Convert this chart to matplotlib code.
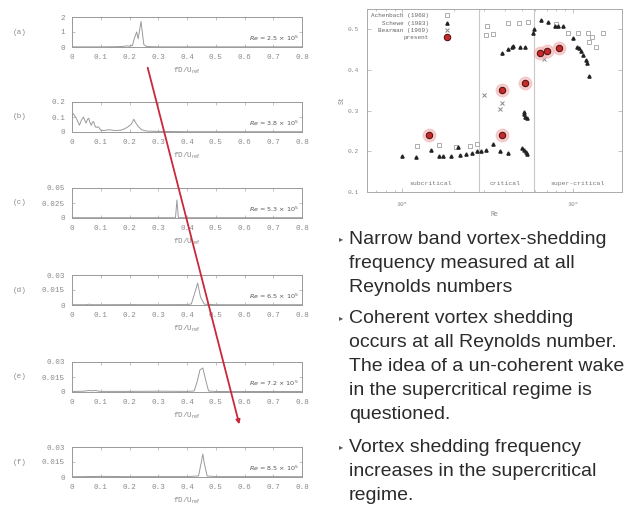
import matplotlib.pyplot as plt
from matplotlib.patches import FancyArrowPatch

# ------------------------------------------------------------
# data
# ------------------------------------------------------------

# left column: spectra, amplitude vs fD/U_ref
freq_a = [0.0, 0.05, 0.10, 0.15, 0.18, 0.19, 0.20, 0.205, 0.21, 0.215, 0.22, 0.225,
          0.23, 0.235, 0.24, 0.245, 0.25, 0.26, 0.30, 0.40, 0.50, 0.60, 0.70, 0.80]
amp_a = [0.01, 0.01, 0.01, 0.02, 0.04, 0.08, 0.05, 0.12, 0.08, 0.45, 0.75, 1.0,
         0.55, 1.1, 1.7, 0.9, 0.15, 0.03, 0.01, 0.01, 0.01, 0.01, 0.01, 0.01]

freq_b = [0.0, 0.005, 0.014, 0.02, 0.026, 0.033, 0.04, 0.045, 0.049, 0.054, 0.058,
          0.063, 0.067, 0.071, 0.075, 0.08, 0.084, 0.09, 0.094, 0.10, 0.11, 0.13,
          0.15, 0.17, 0.184, 0.195, 0.205, 0.21, 0.215, 0.222, 0.23, 0.242, 0.26,
          0.30, 0.40, 0.50, 0.60, 0.70, 0.80]
amp_b = [0.13, 0.12, 0.095, 0.07, 0.045, 0.08, 0.10, 0.075, 0.06, 0.085, 0.092,
         0.06, 0.045, 0.065, 0.07, 0.04, 0.03, 0.035, 0.03, 0.012, 0.01, 0.015,
         0.01, 0.012, 0.022, 0.035, 0.05, 0.065, 0.085, 0.06, 0.038, 0.015, 0.006,
         0.004, 0.002, 0.002, 0.002, 0.002, 0.002]

freq_c = [0.0, 0.1, 0.2, 0.3, 0.36, 0.365, 0.37, 0.4, 0.5, 0.6, 0.7, 0.8]
amp_c = [0.0005, 0.0005, 0.0005, 0.0005, 0.0005, 0.03, 0.0005, 0.0005, 0.0005,
         0.0005, 0.0005, 0.0005]

freq_d = [0.0, 0.05, 0.06, 0.07, 0.1, 0.2, 0.3, 0.4, 0.415, 0.425, 0.437, 0.447,
          0.46, 0.5, 0.6, 0.7, 0.8]
amp_d = [0.0003, 0.0003, 0.0008, 0.0003, 0.0003, 0.0004, 0.0003, 0.0004, 0.001,
         0.01, 0.022, 0.008, 0.0008, 0.0003, 0.0003, 0.0003, 0.0003]

freq_e = [0.0, 0.04, 0.06, 0.07, 0.08, 0.1, 0.2, 0.3, 0.4, 0.425, 0.435, 0.445,
          0.455, 0.465, 0.475, 0.5, 0.6, 0.7, 0.8]
amp_e = [0.0005, 0.0008, 0.0015, 0.0012, 0.0015, 0.0006, 0.0006, 0.0008, 0.0006,
         0.001, 0.01, 0.022, 0.024, 0.012, 0.001, 0.0005, 0.0005, 0.0005, 0.0005]

freq_f = [0.0, 0.1, 0.2, 0.3, 0.4, 0.44, 0.45, 0.455, 0.46, 0.47, 0.5, 0.6, 0.7, 0.8]
amp_f = [0.0003, 0.0006, 0.0004, 0.0004, 0.0004, 0.001, 0.015, 0.023, 0.014,
         0.001, 0.0004, 0.0004, 0.0004, 0.0003]

panel_tags = ['(a)', '(b)', '(c)', '(d)', '(e)', '(f)']
panel_re = ['2.5', '3.8', '5.3', '6.5', '7.2', '8.5']
panel_yticks = [[0, 1, 2], [0, 0.1, 0.2], [0, 0.025, 0.05],
                [0, 0.015, 0.03], [0, 0.015, 0.03], [0, 0.015, 0.03]]
panel_yticklabels = [['0', '1', '2'], ['0', '0.1', '0.2'], ['0', '0.025', '0.05'],
                     ['0', '0.015', '0.03'], ['0', '0.015', '0.03'], ['0', '0.015', '0.03']]
xticks = [0, 0.1, 0.2, 0.3, 0.4, 0.5, 0.6, 0.7, 0.8]

# right column: Strouhal number vs Reynolds number
ach_re = [1.22e5, 1.64e5, 2.05e5, 2.48e5, 2.74e5, 3.08e5, 3.13e5, 3.42e5, 4.18e5,
          4.82e5, 5.47e5, 8.0e5, 9.35e5, 1.07e6, 1.22e6, 1.30e6, 1.25e6, 1.37e6, 1.50e6]
ach_st = [0.213, 0.215, 0.211, 0.213, 0.219, 0.486, 0.507, 0.489, 0.515,
          0.515, 0.517, 0.513, 0.49, 0.49, 0.49, 0.482, 0.470, 0.457, 0.490]

sch_re = [1.0e5, 1.20e5, 1.48e5, 1.65e5, 1.73e5, 1.94e5, 2.12e5, 2.19e5, 2.36e5,
          2.56e5, 2.74e5, 2.90e5, 3.09e5, 3.42e5, 3.74e5, 4.18e5, 5.0e5, 5.16e5,
          5.28e5, 5.40e5,
          5.16e5, 5.20e5, 5.26e5, 5.40e5,
          3.85e5, 4.18e5, 4.37e5, 4.47e5, 4.88e5, 5.22e5,
          5.85e5, 5.93e5, 6.47e5, 7.15e5, 7.8e5, 8.2e5, 8.7e5, 1.0e6, 1.06e6,
          1.08e6, 1.12e6, 1.15e6, 1.19e6, 1.21e6, 1.24e6]
sch_st = [0.189, 0.186, 0.203, 0.188, 0.188, 0.189, 0.211, 0.192, 0.193,
          0.196, 0.201, 0.201, 0.203, 0.217, 0.200, 0.196, 0.207, 0.203,
          0.199, 0.194,
          0.297, 0.293, 0.285, 0.283,
          0.443, 0.451, 0.456, 0.459, 0.456, 0.456,
          0.490, 0.500, 0.524, 0.518, 0.507, 0.507, 0.507, 0.478, 0.457,
          0.453, 0.447, 0.437, 0.424, 0.418, 0.385]

bea_re = [2.99e5, 3.74e5, 3.83e5, 6.8e5]
bea_st = [0.338, 0.305, 0.320, 0.427]

pres_re = [1.43e5, 3.83e5, 3.83e5, 5.22e5, 6.4e5, 7.08e5, 8.28e5]
pres_st = [0.240, 0.350, 0.240, 0.367, 0.443, 0.447, 0.455]

regime_bounds = [2.8e5, 5.93e5]
regime_names = ['subcritical', 'critical', 'super-critical']
regime_pos = [1.46e5, 4.0e5, 1.07e6]

bullets = [
    ['Narrow band vortex-shedding', 'frequency measured at all', 'Reynolds numbers'],
    ['Coherent vortex shedding', 'occurs at all Reynolds number.',
     'The idea of a un-coherent wake', 'in the supercritical regime is', 'questioned.'],
    ['Vortex shedding frequency', 'increases in the supercritical', 'regime.'],
]

# ------------------------------------------------------------
# figure
# ------------------------------------------------------------
W, H = 629, 509
fig = plt.figure(figsize=(W / 100, H / 100), dpi=100)
fig.patch.set_facecolor('white')

grey = '#8a8a8a'
mono = 'Liberation Mono'

spectra = [(freq_a, amp_a), (freq_b, amp_b), (freq_c, amp_c),
           (freq_d, amp_d), (freq_e, amp_e), (freq_f, amp_f)]
tops = [17, 102, 188, 275, 362, 447]

for i, (fq, amp) in enumerate(spectra):
    ax = fig.add_axes([72 / W, 1 - (tops[i] + 30) / H, 230 / W, 30 / H])
    ax.plot(fq, amp, color='#9a9a9a', lw=0.7)
    ax.set_xlim(0, 0.8)
    ax.set_ylim(0, panel_yticks[i][-1])
    ax.set_xticks(xticks)
    ax.set_xticklabels([('%g' % t) for t in xticks], fontsize=5.5, family=mono, color=grey)
    ax.set_yticks(panel_yticks[i])
    ax.set_yticklabels(panel_yticklabels[i], fontsize=5.5, family=mono, color=grey)
    ax.tick_params(direction='in', length=2, width=0.5, colors='#aaaaaa',
                   top=True, right=True, pad=5)
    for t in ax.get_xticklabels() + ax.get_yticklabels():
        t.set_color(grey)
    for s in ax.spines.values():
        s.set_color('#999999')
        s.set_linewidth(0.7)
    ax.set_xlabel(r'fD/U$_{\rm ref}$', fontsize=5.5, family=mono, color=grey, labelpad=3)
    ax.text(0.985, 0.3, r'$Re$ = ' + panel_re[i] + r' $\times$ 10$^5$',
            transform=ax.transAxes, ha='right', va='center', fontsize=4.6, color='#555555')
    fig.text(20 / W, 1 - (tops[i] + 15) / H, panel_tags[i], fontsize=5.5, family=mono,
             color=grey, ha='center', va='center')

# red arrow over the spectra
arrow = FancyArrowPatch((147 / W, 1 - 65 / H), (240 / W, 1 - 427 / H),
                        transform=fig.transFigure, arrowstyle='-|>',
                        mutation_scale=6, color='#c9283a', lw=1.3)
fig.add_artist(arrow)

# Strouhal vs Re
ax2 = fig.add_axes([367 / W, 1 - 192 / H, 255 / W, 183 / H])
ax2.set_xscale('log')
ax2.set_xlim(6.2e4, 1.94e6)
ax2.set_ylim(0.1, 0.55)
for b in regime_bounds:
    ax2.axvline(b, color='#c8c8c8', lw=0.8)
for name, x in zip(regime_names, regime_pos):
    ax2.text(x, 0.122, name, ha='center', va='center', fontsize=4.6,
             family=mono, color='#777777')

ax2.plot(ach_re, ach_st, 's', ms=3.3, mfc='white', mec='#a0a0a0', mew=0.6,
         ls='none', label='Achenbach (1968)')
ax2.plot(sch_re, sch_st, '^', ms=2.3, color='#222222', ls='none', label='Schewe (1983)')
ax2.plot(bea_re, bea_st, 'x', ms=2.6, color='#888888', mew=0.7, ls='none',
         label='Bearman (1969)')
ax2.plot(pres_re, pres_st, 'o', ms=9, color='#f3b3b3', alpha=0.6, ls='none')
ax2.plot(pres_re, pres_st, 'o', ms=4.6, mfc='#c62a2a', mec='#5a1414', mew=0.8,
         ls='none', label='present')

leg = ax2.legend(loc='upper left', frameon=False, markerfirst=False,
                 prop={'family': mono, 'size': 4.3}, handlelength=1.0,
                 handletextpad=2.5, labelspacing=0.35, borderaxespad=0.3)
for t in leg.get_texts():
    t.set_color('#666666')

ax2.set_yticks([0.1, 0.2, 0.3, 0.4, 0.5])
ax2.set_yticklabels(['0.1', '0.2', '0.3', '0.4', '0.5'])
ax2.tick_params(which='both', direction='in', top=True, right=True,
                colors='#aaaaaa', labelsize=4.5, width=0.5, pad=6)
ax2.tick_params(which='major', length=3)
ax2.tick_params(which='minor', length=1.5)
for t in ax2.get_xticklabels() + ax2.get_yticklabels():
    t.set_color(grey)
    t.set_family(mono)
for s in ax2.spines.values():
    s.set_color('#aaaaaa')
    s.set_linewidth(0.7)
ax2.set_xlabel('Re', fontsize=4.8, family=mono, color=grey, labelpad=1)
ax2.set_ylabel('St', fontsize=4.8, family=mono, color=grey, labelpad=1)

# bullet text
baselines = [[244, 268, 292], [323, 347, 371, 395, 419], [452, 476, 500]]
for lines, ys in zip(bullets, baselines):
    fig.text(341 / W, 1 - (ys[0] - 5) / H, '\u25b8', fontsize=6, color='#555555',
             ha='center', va='center', family='DejaVu Sans')
    for line, y in zip(lines, ys):
        fig.text(349 / W, 1 - y / H, line, fontsize=14, family='Liberation Sans',
                 color='#2b2b2b', ha='left', va='baseline')

fig.savefig('out.png', dpi=100)
